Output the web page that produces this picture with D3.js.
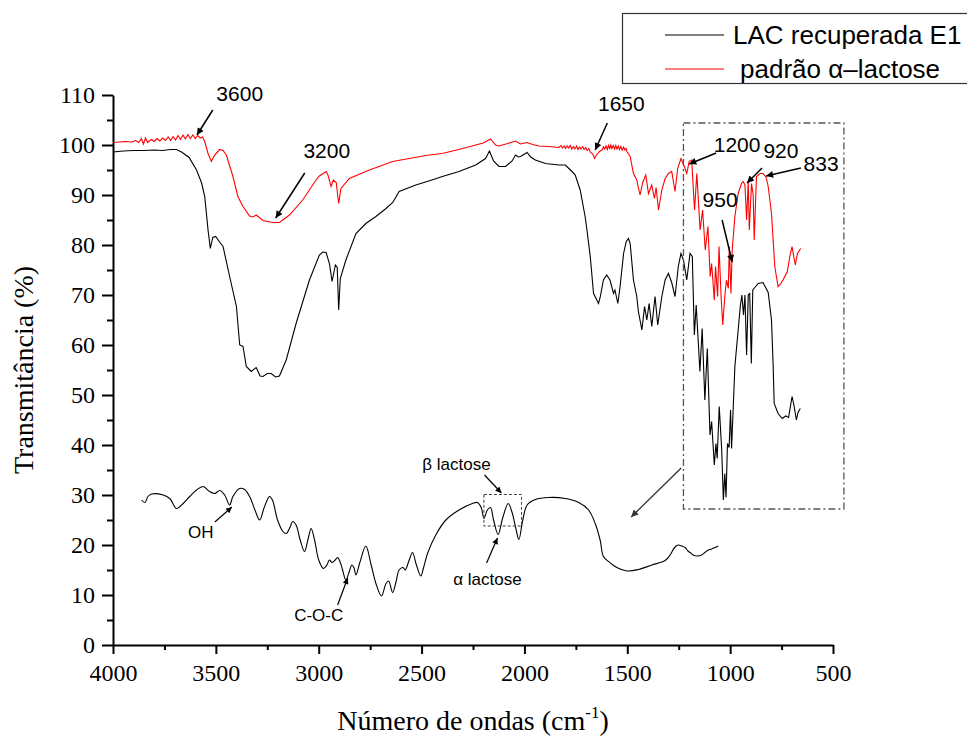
<!DOCTYPE html>
<html><head><meta charset="utf-8">
<script src="https://cdn.jsdelivr.net/npm/d3@7"></script>
<style>
html,body{margin:0;padding:0;background:#fff;}
svg{display:block;}
</style></head>
<body>
<svg id="chart" width="967" height="740"></svg>
<script>
// ---------- DATA ----------
const xTicks = [4000, 3500, 3000, 2500, 2000, 1500, 1000, 500];
const xMinorTicks = [3750, 3250, 2750, 2250, 1750, 1250, 750];
const yTicks = [0, 10, 20, 30, 40, 50, 60, 70, 80, 90, 100, 110];
const yMinorTicks = [5, 15, 25, 35, 45, 55, 65, 75, 85, 95, 105];
const seriesNames = ["LAC recuperada E1", "padrão α–lactose"];

// LAC recuperada E1 (black) : [wavenumber, transmittance]
const lacE1 = [
[4000,98.6],[3950,98.8],[3900,98.9],[3850,98.9],[3800,99.0],[3760,98.9],[3720,99.1],[3691,99.1],[3667,98.6],[3630,97.5],[3594,95],[3570,92.5],[3554,89.7],[3538,83],[3527,79.3],[3515,81.5],[3501,81.7],[3480,80.5],[3465,79.7],[3433,73.7],[3400,67.7],[3384,60],[3368,59.7],[3352,55.7],[3328,54.7],[3304,55.5],[3285,53.8],[3271,53.7],[3250,54.3],[3231,54.3],[3210,53.6],[3191,53.8],[3158,57],[3110,64.3],[3045,73],[2997,78],[2980,78.6],[2964,78.5],[2948,76.3],[2935,72.7],[2919,76],[2910,75.5],[2903,67],[2895,73.3],[2868,77],[2819,82.3],[2771,84.3],[2722,85.7],[2673,87.3],[2640,88.5],[2609,90.7],[2528,92],[2450,93],[2399,93.7],[2318,94.7],[2237,96],[2189,97.3],[2170,98.8],[2150,96.8],[2124,95.7],[2092,95.7],[2060,96.8],[2043,98],[2030,97.6],[2019,97.7],[1987,98.5],[1970,97.6],[1947,97],[1898,96.3],[1833,96],[1801,96],[1769,94.7],[1753,94],[1729,91],[1705,85.7],[1696,83],[1680,77.7],[1664,70.3],[1648,69],[1640,68.3],[1632,69.5],[1616,73],[1600,74],[1584,73],[1567,70.3],[1560,71],[1546,68.3],[1535,71.7],[1518,78.3],[1505,80.7],[1494,81.3],[1486,80.3],[1470,73],[1454,69.7],[1446,66.7],[1429,63],[1416,67.7],[1405,65],[1394,68.3],[1381,63.7],[1365,69.7],[1352,64],[1332,69.7],[1316,73],[1300,74.3],[1284,72.5],[1268,69.7],[1252,75.7],[1239,78.3],[1227,77],[1211,73],[1195,78.3],[1184,77.7],[1174,62],[1165,68],[1147,54.7],[1136,63.3],[1123,49],[1111,59.3],[1098,42],[1090,44.7],[1077,36],[1069,40.3],[1063,37.3],[1053,47.7],[1041,39],[1033,29],[1026,34.3],[1020,29.5],[1013,40.3],[1005,39.5],[998,47],[993,39.3],[977,55.7],[961,63],[950,68],[943,70],[935,66],[928,70],[920,58],[912,70],[905,70.3],[897,56.3],[890,71],[880,71.5],[864,72.3],[840,72.5],[815,70.5],[799,65],[791,56],[786,48.3],[767,46.3],[747,45.3],[730,45.8],[716,45.5],[699,49.7],[690,48],[678,45],[670,46.5],[659,47.3]
];

// padrão α-lactose (red)
const padraoLactose = [
[4000,100.5],[3970,100.6],[3940,100.7],[3910,100.6],[3890,100.9],[3875,100.5],[3862,101.3],[3852,100.2],[3842,101.4],[3832,100.5],[3815,101.1],[3800,100.7],[3785,101.3],[3772,100.8],[3758,101.4],[3745,100.9],[3732,101.6],[3720,100.9],[3708,101.7],[3696,101.0],[3684,101.9],[3672,101.1],[3660,102.0],[3648,101.2],[3636,102.1],[3624,101.3],[3612,102.0],[3600,101.3],[3588,101.9],[3576,101.4],[3565,101.6],[3554,100.7],[3538,98.3],[3522,96.7],[3506,98],[3481,99.1],[3465,98.9],[3449,98],[3417,93.7],[3393,89.7],[3368,87.7],[3336,85.8],[3320,85.6],[3304,86],[3271,84.9],[3223,84.5],[3191,84.5],[3142,86],[3078,89],[3013,93],[2997,93.8],[2964,94.7],[2955,94],[2940,91.7],[2929,93],[2915,92.5],[2903,88.3],[2892,91.3],[2851,93.3],[2800,94.2],[2754,95],[2700,95.8],[2641,96.7],[2560,97.3],[2480,97.9],[2399,98.3],[2350,98.8],[2300,99.3],[2237,100],[2200,100.4],[2165,101.2],[2140,100],[2124,99.8],[2090,100.2],[2043,100.8],[2020,100.2],[1987,100.5],[1960,100.1],[1930,99.8],[1880,99.7],[1833,99.5],[1822,99.9],[1815,99.4],[1806,99.8],[1800,99.3],[1792,99.8],[1785,99.4],[1777,99.9],[1770,99.2],[1762,99.7],[1755,99.2],[1747,99.8],[1740,99.1],[1732,99.6],[1725,99.2],[1717,99.7],[1710,99.1],[1702,99.5],[1695,98.9],[1687,99.3],[1680,98.6],[1668,98.2],[1659,97.3],[1652,97.9],[1645,98.2],[1635,98.7],[1623,99],[1616,99.6],[1610,99.2],[1603,99.8],[1597,99.1],[1591,99.9],[1585,99.3],[1580,100],[1575,99.3],[1568,99.9],[1562,99.2],[1556,99.9],[1550,99.2],[1544,99.8],[1538,99.1],[1531,99.7],[1525,99.0],[1518,99.6],[1512,99.0],[1506,99.3],[1502,98.7],[1486,97.7],[1470,94.3],[1454,93],[1438,90],[1425,92.5],[1410,94],[1397,90.3],[1381,92],[1368,89.3],[1360,91.5],[1348,87],[1332,91],[1316,93.3],[1300,94.3],[1284,94.7],[1268,90.7],[1255,95.3],[1239,97.3],[1223,95.7],[1211,94.3],[1199,96.7],[1187,97],[1173,87],[1162,94.3],[1146,83],[1134,87],[1121,79],[1108,83.7],[1097,73.7],[1090,76.3],[1077,69],[1071,75.7],[1061,69.7],[1054,79.7],[1044,69.7],[1036,64],[1026,69.7],[1018,73],[1009,71.3],[1004,79.7],[996,70.3],[990,79],[977,85.7],[961,90.3],[945,92.3],[937,92.7],[928,92],[920,85],[912,92.7],[907,83],[896,92.3],[888,90],[883,81],[872,93.7],[855,94.3],[840,94.3],[825,93.5],[815,91.7],[799,86.3],[783,75.7],[767,71.7],[755,72.2],[743,73],[722,74.7],[710,77.7],[699,79.7],[690,77.5],[683,76],[673,78.3],[657,79.3]
];

// inset spectrum drawn in the lower part of the axes (in axis units)
const insetSpectrum = [
[3861,29],[3845,28.5],[3830,29.7],[3812,30.2],[3756,30],[3724,29.3],[3691,27.3],[3659,28.3],[3627,29.7],[3594,31],[3562,31.7],[3530,30.7],[3506,30.3],[3481,30.9],[3457,30],[3433,28],[3417,29.7],[3384,31.3],[3360,31.1],[3336,29.7],[3310,27],[3287,25],[3265,27.5],[3239,29.7],[3225,29],[3200,25],[3174,22.7],[3158,22.3],[3140,23.5],[3126,24.7],[3110,24],[3090,21],[3069,18.7],[3050,21.5],[3037,23.3],[3020,21],[3000,17],[2977,15.3],[2960,16],[2948,17],[2935,16.5],[2920,17],[2908,17.5],[2895,16.5],[2884,15],[2868,13],[2853,14.5],[2839,16],[2829,15.5],[2819,14],[2800,16.5],[2771,19.8],[2745,16],[2722,12.3],[2695,9.8],[2673,12.3],[2660,12.8],[2641,10.5],[2625,12.5],[2609,15],[2590,15.5],[2580,15],[2560,17],[2544,18.5],[2525,16],[2504,13.8],[2490,15.5],[2471,18.3],[2431,22],[2382,25],[2318,27],[2253,28.3],[2229,28.5],[2210,27.5],[2197,25.3],[2180,27],[2165,27.5],[2150,25],[2128,22.1],[2105,25.5],[2079,28.3],[2060,26.5],[2040,23],[2027,21.1],[2008,25],[1987,28],[1947,29.1],[1882,29.5],[1801,29.3],[1736,28.5],[1688,27],[1656,24.3],[1632,21],[1616,17.7],[1591,16.7],[1551,15.5],[1502,14.8],[1446,15.1],[1381,16],[1316,16.9],[1292,18],[1270,19.5],[1252,20],[1235,19.8],[1219,19.5],[1205,18.8],[1195,18.5],[1180,18],[1158,17.8],[1139,18],[1120,18.6],[1106,19],[1090,19.2],[1074,19.5],[1058,19.8]
];

// peak labels: text, label anchor (x,y), arrow from (x1,y1) to (x2,y2)
const peakLabels = [
  {t:"3600", x:3384, y:108.8, x1:3515, y1:107, x2:3592, y2:102},
  {t:"3200", x:2961, y:97.4, x1:3068, y1:94.4, x2:3209, y2:85.4},
  {t:"1650", x:1529, y:106.8, x1:1597, y1:104.4, x2:1656, y2:99},
  {t:"1200", x:966, y:98.6, x1:1068, y1:98.4, x2:1199, y2:96.2},
  {t:"920", x:753, y:97.4, x1:845, y1:95.4, x2:918, y2:92.4},
  {t:"833", x:558, y:94.8, x1:656, y1:95.4, x2:825, y2:93.8},
  {t:"950", x:1049, y:87.6, x1:1039, y1:85, x2:990, y2:76.6}
];
const insetLabels = [
  {t:"OH", x:3573, y:21.4, x1:3505, y1:24.6, x2:3422, y2:27.6},
  {t:"C-O-C", x:3000, y:4.8, x1:2908, y1:8, x2:2859, y2:13.4},
  {t:"β lactose", x:2330, y:35, x1:2194, y1:34, x2:2112, y2:30.4},
  {t:"α lactose", x:2180, y:12, x1:2184, y1:16.4, x2:2131, y2:21.4}
];
const zoomBox = {x0:1227, x1:447, y0:27.2, y1:104.4};
const betaBox = {x0:2197, x1:2014, y0:23.8, y1:30.1};
const zoomArrow = {x1:1238, y1:35.4, x2:1481, y2:25.6};

// ---------- CHART ----------
const svg = d3.select("#chart");
const x = d3.scaleLinear().domain([4000, 500]).range([113, 833]);
const y = d3.scaleLinear().domain([0, 110]).range([645, 95]);

const defs = svg.append("defs");
function marker(id, color, w, h){
  defs.append("marker").attr("id", id)
    .attr("viewBox", "0 0 10 10").attr("refX", 10).attr("refY", 5)
    .attr("markerUnits", "userSpaceOnUse")
    .attr("markerWidth", w).attr("markerHeight", h)
    .attr("orient", "auto")
    .append("path").attr("d", "M0,0 L10,5 L0,10 Z").attr("fill", color);
}
marker("ah", "#000", 11, 7);
marker("ahs", "#000", 10, 6);
marker("ahg", "#333", 11, 7);

// axes
const serif = "'Liberation Serif','Times New Roman',serif";
const sans = "'Liberation Sans',Arial,sans-serif";

svg.append("g").attr("transform", "translate(113,0)")
  .call(d3.axisLeft(y).tickValues(yTicks).tickSize(11).tickPadding(7).tickSizeOuter(0));
svg.append("g").attr("transform", "translate(113,0)")
  .call(d3.axisLeft(y).tickValues(yMinorTicks).tickSize(6).tickFormat("").tickSizeOuter(0))
  .select(".domain").remove();
svg.append("g").attr("transform", "translate(0,645)")
  .call(d3.axisBottom(x).tickValues(xTicks).tickSize(9).tickPadding(10).tickSizeOuter(0).tickFormat(d3.format("d")));
svg.append("g").attr("transform", "translate(0,645)")
  .call(d3.axisBottom(x).tickValues(xMinorTicks).tickSize(5).tickFormat("").tickSizeOuter(0))
  .select(".domain").remove();

svg.selectAll(".domain").attr("stroke", "#000").attr("stroke-width", 2);
svg.selectAll(".tick line").attr("stroke", "#000").attr("stroke-width", 2);
svg.selectAll(".tick text").attr("font-family", serif).attr("font-size", 24).attr("fill", "#000");

// axis titles
svg.append("text")
  .attr("transform", "translate(33,370) rotate(-90)")
  .attr("text-anchor", "middle").attr("font-family", serif).attr("font-size", 28)
  .text("Transmitância (%)");
const xt = svg.append("text").attr("x", 473).attr("y", 730)
  .attr("text-anchor", "middle").attr("font-family", serif).attr("font-size", 28);
xt.append("tspan").text("Número de ondas (cm");
xt.append("tspan").attr("font-size", 17).attr("dy", -12).text("-1");
xt.append("tspan").attr("dy", 12).text(")");

// lines
const line = d3.line().x(d => x(d[0])).y(d => y(d[1]));
svg.append("path").datum(padraoLactose).attr("d", line)
  .attr("fill", "none").attr("stroke", "#ff0000").attr("stroke-width", 1.1);
svg.append("path").datum(lacE1).attr("d", line)
  .attr("fill", "none").attr("stroke", "#000").attr("stroke-width", 1.1);
const smooth = d3.line().x(d => x(d[0])).y(d => y(d[1])).curve(d3.curveCatmullRom.alpha(0.5));
svg.append("path").datum(insetSpectrum).attr("d", smooth)
  .attr("fill", "none").attr("stroke", "#000").attr("stroke-width", 1.1);

// boxes
svg.append("rect")
  .attr("x", x(zoomBox.x0)).attr("y", y(zoomBox.y1))
  .attr("width", x(zoomBox.x1) - x(zoomBox.x0)).attr("height", y(zoomBox.y0) - y(zoomBox.y1))
  .attr("fill", "none").attr("stroke", "#555").attr("stroke-width", 1.3)
  .attr("stroke-dasharray", "7,3,2,3");
svg.append("rect")
  .attr("x", x(betaBox.x0)).attr("y", y(betaBox.y1))
  .attr("width", x(betaBox.x1) - x(betaBox.x0)).attr("height", y(betaBox.y0) - y(betaBox.y1))
  .attr("fill", "none").attr("stroke", "#444").attr("stroke-width", 1)
  .attr("stroke-dasharray", "3,2");
svg.append("line")
  .attr("x1", x(zoomArrow.x1)).attr("y1", y(zoomArrow.y1))
  .attr("x2", x(zoomArrow.x2)).attr("y2", y(zoomArrow.y2))
  .attr("stroke", "#333").attr("stroke-width", 1.3).attr("marker-end", "url(#ahg)");

// peak labels
peakLabels.forEach(p => {
  svg.append("line").attr("x1", x(p.x1)).attr("y1", y(p.y1)).attr("x2", x(p.x2)).attr("y2", y(p.y2))
    .attr("stroke", "#000").attr("stroke-width", 1.5).attr("marker-end", "url(#ah)");
  svg.append("text").attr("x", x(p.x)).attr("y", y(p.y)).attr("text-anchor", "middle")
    .attr("font-family", sans).attr("font-size", 21).text(p.t);
});
insetLabels.forEach(p => {
  svg.append("line").attr("x1", x(p.x1)).attr("y1", y(p.y1)).attr("x2", x(p.x2)).attr("y2", y(p.y2))
    .attr("stroke", "#000").attr("stroke-width", 1.2).attr("marker-end", "url(#ahs)");
  svg.append("text").attr("x", x(p.x)).attr("y", y(p.y)).attr("text-anchor", "middle")
    .attr("font-family", sans).attr("font-size", 17).text(p.t);
});

// legend
const lg = svg.append("g");
lg.append("rect").attr("x", 622.5).attr("y", 13.5).attr("width", 360).attr("height", 70)
  .attr("fill", "#fff").attr("stroke", "#333").attr("stroke-width", 1.2);
const legendColors = ["#000", "#ff0000"];
seriesNames.forEach((n, i) => {
  const yy = 35 + i * 34;
  lg.append("line").attr("x1", 665).attr("x2", 724).attr("y1", yy).attr("y2", yy)
    .attr("stroke", legendColors[i]).attr("stroke-width", 1.1);
  lg.append("text").attr("x", i === 0 ? 733 : 740).attr("y", yy + 9)
    .attr("font-family", sans).attr("font-size", 26).text(n);
});
</script>
</body></html>
